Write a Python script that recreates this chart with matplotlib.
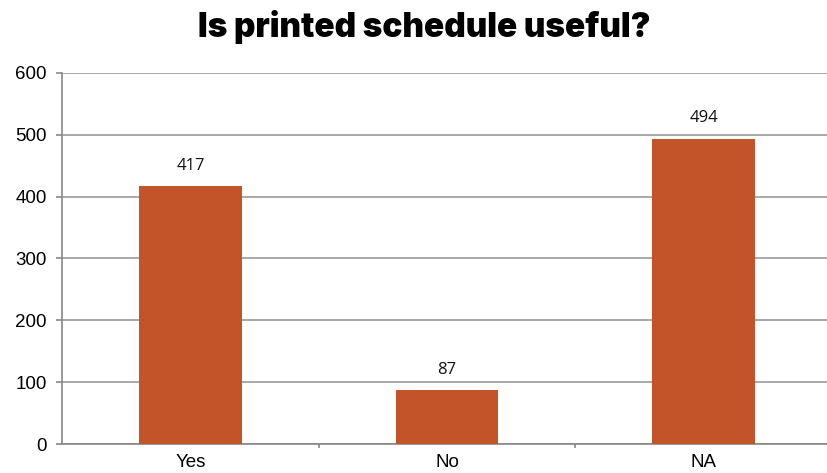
import matplotlib
matplotlib.use("Agg")
import matplotlib.pyplot as plt

categories = ["Yes", "No", "NA"]
values = [417, 87, 494]
yticks = [0, 100, 200, 300, 400, 500, 600]

bar_color = "#C2542A"

fig = plt.figure(figsize=(8.27, 4.73), dpi=100)
ax = fig.add_axes([0.075, 0.0613, 0.925, 0.7844])

x = list(range(len(categories)))
ax.bar(x, values, width=0.4, color=bar_color, zorder=3)
for xi, v in zip(x, values):
    ax.text(xi, v + 20, str(v), ha="center", va="bottom", fontsize=12,
            family="Open Sans", color="#111111")

ax.set_xlim(-0.5, 2.48)
ax.set_ylim(0, 600)
ax.set_yticks(yticks)
ax.set_yticklabels([str(t) for t in yticks], family="Liberation Sans", fontsize=13.5)
ax.set_xticks(x)
ax.set_xticklabels(categories, family="Liberation Sans", fontsize=13.5)
ax.tick_params(axis="x", length=0, pad=7)
ax.tick_params(axis="y", length=4, color="#888888", width=1.2, pad=7)
ax.set_xticks([0.5, 1.5], minor=True)
ax.tick_params(axis="x", which="minor", length=3, color="#888888", width=1.2)

ax.yaxis.grid(True, color="#999999", linewidth=1.2, zorder=0)
for s in ["top", "right"]:
    ax.spines[s].set_visible(False)
for s in ["left", "bottom"]:
    ax.spines[s].set_color("#888888")
    ax.spines[s].set_linewidth(1.2)

fig.text(0.513, 0.922, "Is printed schedule useful?", ha="center", va="baseline",
         fontsize=24, fontweight="black", family="Inter")

fig.savefig("out.png", dpi=100)
